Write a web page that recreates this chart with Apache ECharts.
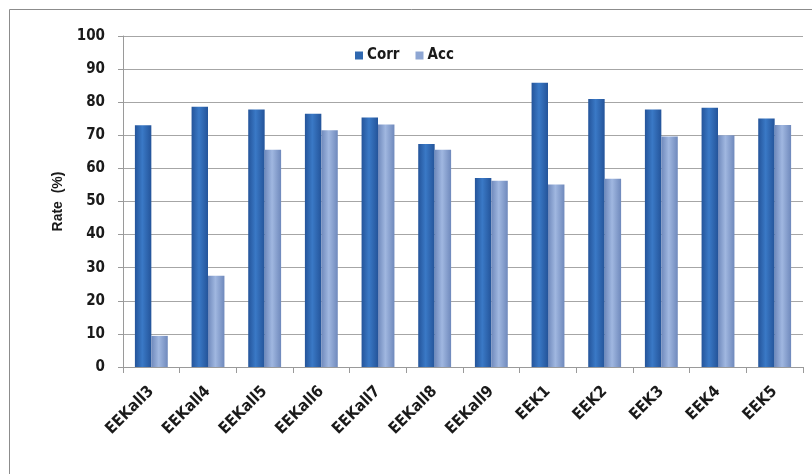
<!DOCTYPE html>
<html>
<head>
<meta charset="utf-8">
<script src="https://cdn.jsdelivr.net/npm/echarts@6/dist/echarts.min.js"></script>
<style>
  html, body { margin: 0; padding: 0; background: #fff; }
  #chart { width: 812px; height: 474px; }
</style>
</head>
<body>
<div id="chart"></div>
<script>
// Categories and rates (%)
const categories = ['EEKall3', 'EEKall4', 'EEKall5', 'EEKall6', 'EEKall7', 'EEKall8', 'EEKall9', 'EEK1', 'EEK2', 'EEK3', 'EEK4', 'EEK5'];
const corrValues = [73.0, 78.6, 77.8, 76.5, 75.4, 67.4, 57.1, 85.9, 81.0, 77.8, 78.3, 75.1];
const accValues = [9.4, 27.6, 65.6, 71.5, 73.3, 65.6, 56.3, 55.1, 56.9, 69.6, 70.0, 73.1];
const yTicks = { min: 0, max: 100, interval: 10 };

const labelFont = "'DejaVu Sans Condensed', 'Liberation Sans Narrow', 'Liberation Sans', sans-serif";

function cylinder(edge, mid) {
  return new echarts.graphic.LinearGradient(0, 0, 1, 0, [
    { offset: 0, color: edge },
    { offset: 0.45, color: mid },
    { offset: 1, color: edge }
  ]);
}

const chart = echarts.init(document.getElementById('chart'), null, { renderer: 'canvas' });
chart.setOption({
  animation: false,
  backgroundColor: '#ffffff',
  graphic: [{
    type: 'rect',
    shape: { x: 9.5, y: 9.5, width: 840, height: 500 },
    style: { fill: 'none', stroke: '#8c8c8c', lineWidth: 1 },
    silent: true,
    z: -1
  }],
  legend: {
    left: 350,
    top: 43,
    itemWidth: 8,
    itemHeight: 8,
    itemGap: 16,
    icon: 'rect',
    textStyle: { fontFamily: labelFont, fontWeight: 'bold', fontSize: 15, color: '#1a1a1a', padding: [0, 0, 0, -1] },
    data: [
      { name: 'Corr', itemStyle: { color: '#2f68b0' } },
      { name: 'Acc', itemStyle: { color: '#8ea6d3' } }
    ]
  },
  grid: { left: 123, right: 9, top: 36, bottom: 107, containLabel: false },
  xAxis: {
    type: 'category',
    data: categories,
    axisLine: { lineStyle: { color: '#9a9a9a', width: 1 } },
    axisTick: { show: true, alignWithLabel: false, length: 6, lineStyle: { color: '#9a9a9a' } },
    axisLabel: {
      rotate: 45,
      interval: 0,
      margin: 22,
      fontFamily: labelFont,
      fontWeight: 'bold',
      fontSize: 16,
      color: '#1a1a1a'
    }
  },
  yAxis: {
    type: 'value',
    min: yTicks.min,
    max: yTicks.max,
    interval: yTicks.interval,
    name: 'Rate  (%)',
    nameLocation: 'middle',
    nameGap: 58,
    nameRotate: 90,
    nameTextStyle: { fontFamily: "'Liberation Sans', Arial, sans-serif", fontWeight: 'bold', fontSize: 14, color: '#1a1a1a' },
    axisLine: { show: true, lineStyle: { color: '#9a9a9a', width: 1 } },
    axisTick: { show: true, length: 5, lineStyle: { color: '#9a9a9a' } },
    axisLabel: {
      margin: 18,
      fontFamily: labelFont,
      fontWeight: 'bold',
      fontSize: 15,
      color: '#1a1a1a'
    },
    splitLine: { show: true, lineStyle: { color: '#a6a6a6', width: 1 } }
  },
  series: [
    {
      name: 'Corr',
      type: 'bar',
      data: corrValues,
      barGap: '0%',
      barCategoryGap: '42%',
      itemStyle: { color: cylinder('#24549a', '#3a79c6') }
    },
    {
      name: 'Acc',
      type: 'bar',
      data: accValues,
      barGap: '0%',
      barCategoryGap: '42%',
      itemStyle: { color: cylinder('#6f89bc', '#a0b7e0') }
    }
  ]
});
</script>
</body>
</html>
